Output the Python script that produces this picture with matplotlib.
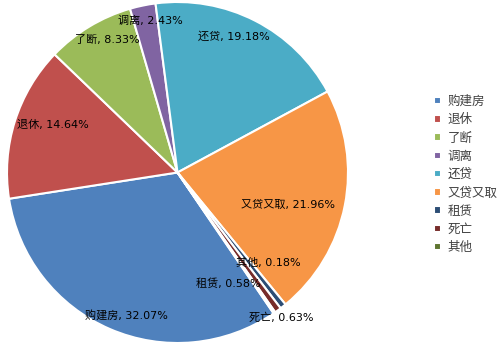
import matplotlib.pyplot as plt

plt.rcParams['font.family'] = ['DejaVu Sans', 'Noto Sans CJK SC']

categories = ['购建房', '退休', '了断', '调离', '还贷', '又贷又取', '租赁', '死亡', '其他']
shares = [32.07, 14.64, 8.33, 2.43, 19.18, 21.96, 0.58, 0.63, 0.18]
colors = ['#4F81BD', '#C0504D', '#9BBB59', '#8064A2', '#4BACC6',
          '#F79646', '#2C4D75', '#772C2A', '#5F7530']

# label centres in axes data units (pie radius = 1)
label_pos = [(-0.30, -0.84), (-0.73, 0.28), (-0.41, 0.78), (-0.16, 0.89),
             (0.33, 0.80), (0.65, -0.19), (0.30, -0.65), (0.61, -0.85),
             (0.53, -0.53)]

fig = plt.figure(figsize=(4.99, 3.5), dpi=100)
ax = fig.add_axes([7 / 499, 7 / 350, 341 / 499, 341 / 350])

wedges, _ = ax.pie(shares, colors=colors, startangle=-55.7, counterclock=False,
                   radius=1, wedgeprops=dict(edgecolor='white', linewidth=1.5))
ax.set_xlim(-1, 1)
ax.set_ylim(-1, 1)
ax.set_aspect('equal')

for name, val, (x, y) in zip(categories, shares, label_pos):
    ax.text(x, y, f'{name}, {val:.2f}%', ha='center', va='center',
            fontsize=8, color='black')

leg = fig.legend(wedges, categories, loc='center left',
                 bbox_to_anchor=(429 / 499, 0.501), frameon=False, fontsize=9,
                 handlelength=0.55, handleheight=0.55, handletextpad=0.55,
                 labelspacing=0.42, borderaxespad=0)
for t in leg.get_texts():
    t.set_color('#404040')

fig.savefig('out.png', dpi=100)
